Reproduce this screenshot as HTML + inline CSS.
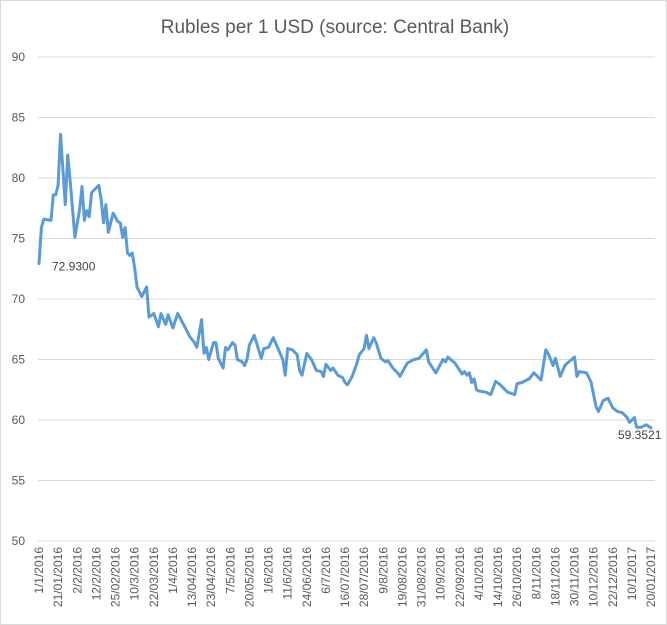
<!DOCTYPE html>
<html><head><meta charset="utf-8"><style>
html,body{margin:0;padding:0;background:#fff}
svg{display:block;font-family:"Liberation Sans",sans-serif}
</style></head><body>
<svg id="chart" width="667" height="625" viewBox="0 0 667 625" xmlns="http://www.w3.org/2000/svg">
<rect x="0.5" y="0.5" width="666" height="624" fill="#fff" stroke="#d9d9d9"/>
<text x="335" y="33" text-anchor="middle" font-size="19" fill="#595959">Rubles per 1 USD (source: Central Bank)</text>
<g id="grid"></g><g id="ylabels"></g><g id="xlabels"></g><g id="series"></g><g id="annots"></g>
</svg>
<script>
const yTicks=[50,55,60,65,70,75,80,85,90];
const xTickLabels=["1/1/2016","21/01/2016","2/2/2016","12/2/2016","25/02/2016","10/3/2016","22/03/2016","1/4/2016","13/04/2016","23/04/2016","7/5/2016","20/05/2016","1/6/2016","11/6/2016","24/06/2016","6/7/2016","16/07/2016","28/07/2016","9/8/2016","19/08/2016","31/08/2016","10/9/2016","22/09/2016","4/10/2016","14/10/2016","26/10/2016","8/11/2016","18/11/2016","30/11/2016","10/12/2016","22/12/2016","10/1/2017","20/01/2017"];
const dayIndex=[0,1,2,5,6,7,8,9,10,11,12,13,15,17,18,19,20,21,22,25,26,27,28,29,31,33,34,35,36,37,38,39,40,41,43,45,46,48,50,51,53,54,56,58,61,63,65,66,68,69,70,71,73,74,75,77,78,79,81,82,83,85,86,87,88,90,93,94,96,97,98,102,103,104,106,108,109,110,112,114,116,118,119,120,122,123,125,127,128,129,131,133,134,136,137,138,140,141,143,145,146,148,150,151,154,156,157,159,162,163,164,166,169,170,171,174,177,178,179,180,181,182,183,184,187,189,191,193,196,199,200,202,205,207,208,210,212,213,215,216,218,220,221,224,225,226,229,231,233,234,236,238,240,242,244,246,247,249,250,252,254,256];
const rate=[72.93,75.9,76.6,76.5,78.6,78.6,79.4,83.6,80.7,77.8,81.9,79.8,75.1,77.4,79.3,76.5,77.3,76.8,78.8,79.4,78.2,76.3,77.8,75.5,77.1,76.4,76.3,75.1,75.9,73.8,73.6,73.8,72.6,71.0,70.2,71.0,68.5,68.8,67.7,68.8,67.9,68.7,67.6,68.8,67.7,66.9,66.4,66.0,68.3,65.5,66.0,65.0,66.4,66.4,65.1,64.3,66.0,65.8,66.4,66.2,65.0,64.8,64.5,65.0,66.2,67.0,65.1,65.9,66.0,66.4,66.8,65.0,63.7,65.9,65.8,65.4,64.1,63.7,65.5,65.0,64.1,64.0,63.6,64.6,64.1,64.3,63.7,63.5,63.1,62.9,63.6,64.7,65.4,65.9,67.0,65.9,66.8,66.4,65.1,64.8,64.9,64.3,63.9,63.6,64.7,64.9,65.0,65.1,65.8,64.8,64.5,63.9,65.0,64.8,65.2,64.7,63.8,64.0,63.7,63.9,63.1,63.4,62.5,62.4,62.3,62.1,63.2,62.9,62.3,62.1,63.0,63.1,63.4,63.9,63.7,63.3,65.8,65.5,64.5,65.1,63.6,64.5,64.7,65.2,63.6,64.0,63.9,63.1,61.1,60.7,61.6,61.8,61.0,60.7,60.6,60.2,59.8,60.2,59.4,59.4,59.6,59.3521];
const maxIndex=256;
const X0=39,X1=651,Y0=541,Y1=57,VMIN=50,VMAX=90,GL=38,GR=655;
const xs=i=>X0+(X1-X0)*i/maxIndex;
const ys=v=>Y0+(Y1-Y0)*(v-VMIN)/(VMAX-VMIN);
const NS="http://www.w3.org/2000/svg";
function mk(t,a,p){const e=document.createElementNS(NS,t);for(const k in a)e.setAttribute(k,a[k]);p.appendChild(e);return e;}
const grid=document.getElementById('grid'),yl=document.getElementById('ylabels'),xl=document.getElementById('xlabels'),se=document.getElementById('series'),an=document.getElementById('annots');
yTicks.forEach(v=>{
 const l=mk('line',{x1:GL,x2:GR,y1:ys(v),y2:ys(v),stroke:'#d9d9d9','stroke-width':1},grid);
 
 
 const t=mk('text',{x:25,y:ys(v)+4,'text-anchor':'end','font-size':12,fill:'#595959'},yl);
 t.textContent=v;
 
 
});
xTickLabels.forEach((s,k)=>{
 const x=xs(k*8)+4,y=547;
 const t=mk('text',{x:x,y:y,'text-anchor':'end','font-size':12,fill:'#595959',transform:`rotate(-90 ${x} ${y})`},xl);
 t.textContent=s;
 
 
});
const pts=rate.map((v,i)=>xs(dayIndex[i]).toFixed(1)+','+ys(v).toFixed(1)).join(' ');
const pl=mk('polyline',{points:pts,fill:'none',stroke:'#5B9BD5','stroke-width':3,'stroke-linejoin':'round','stroke-linecap':'round'},se);


const a1=mk('text',{x:xs(dayIndex[0])+13,y:ys(rate[0])+7,'font-size':12,fill:'#404040'},an);
a1.textContent=rate[0].toFixed(4);


const last=rate.length-1;
const a2=mk('text',{x:xs(dayIndex[last])-33,y:ys(rate[last])+11,'font-size':12,fill:'#404040'},an);
a2.textContent=rate[last].toFixed(4);


</script>
</body></html>
